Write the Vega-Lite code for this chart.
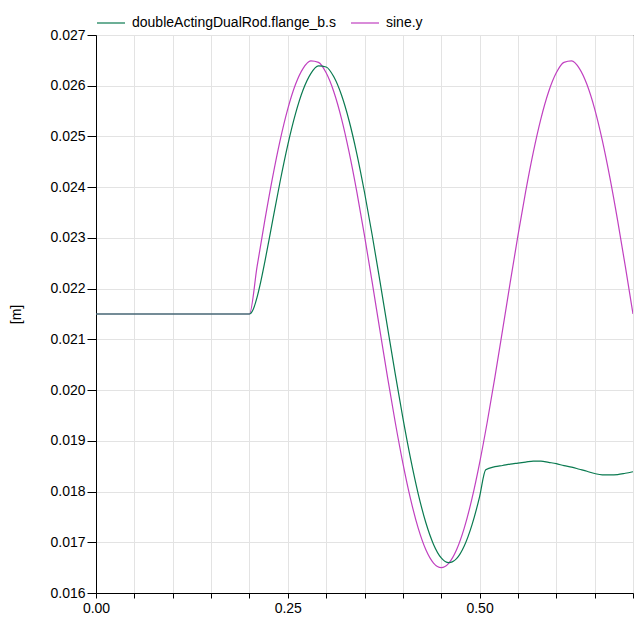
{
  "$schema": "https://vega.github.io/schema/vega-lite/v6.json",
  "width": 537,
  "height": 558,
  "autosize": {"type": "none"},
  "padding": {"left": 96, "top": 35, "right": 10, "bottom": 27},
  "background": "white",
  "config": {"font": "Liberation Sans", "view": {"stroke": "black", "strokeWidth": 1}},
  "data": {"values": [
    {"series": "sine.y", "t": 0, "v": 0.0215},
    {"series": "sine.y", "t": 0.2, "v": 0.0215},
    {"series": "sine.y", "t": 0.21, "v": 0.022437},
    {"series": "sine.y", "t": 0.22, "v": 0.023341},
    {"series": "sine.y", "t": 0.23, "v": 0.024179},
    {"series": "sine.y", "t": 0.24, "v": 0.024923},
    {"series": "sine.y", "t": 0.25, "v": 0.025545},
    {"series": "sine.y", "t": 0.26, "v": 0.026024},
    {"series": "sine.y", "t": 0.27, "v": 0.026343},
    {"series": "sine.y", "t": 0.28, "v": 0.02649},
    {"series": "sine.y", "t": 0.29, "v": 0.026461},
    {"series": "sine.y", "t": 0.3, "v": 0.026255},
    {"series": "sine.y", "t": 0.31, "v": 0.025882},
    {"series": "sine.y", "t": 0.32, "v": 0.025353},
    {"series": "sine.y", "t": 0.33, "v": 0.024687},
    {"series": "sine.y", "t": 0.34, "v": 0.023909},
    {"series": "sine.y", "t": 0.35, "v": 0.023045},
    {"series": "sine.y", "t": 0.36, "v": 0.022127},
    {"series": "sine.y", "t": 0.37, "v": 0.021186},
    {"series": "sine.y", "t": 0.38, "v": 0.020257},
    {"series": "sine.y", "t": 0.39, "v": 0.019371},
    {"series": "sine.y", "t": 0.4, "v": 0.018561},
    {"series": "sine.y", "t": 0.41, "v": 0.017855},
    {"series": "sine.y", "t": 0.42, "v": 0.017278},
    {"series": "sine.y", "t": 0.43, "v": 0.016851},
    {"series": "sine.y", "t": 0.44, "v": 0.016589},
    {"series": "sine.y", "t": 0.45, "v": 0.0165},
    {"series": "sine.y", "t": 0.46, "v": 0.016589},
    {"series": "sine.y", "t": 0.47, "v": 0.016851},
    {"series": "sine.y", "t": 0.48, "v": 0.017278},
    {"series": "sine.y", "t": 0.49, "v": 0.017855},
    {"series": "sine.y", "t": 0.5, "v": 0.018561},
    {"series": "sine.y", "t": 0.51, "v": 0.019371},
    {"series": "sine.y", "t": 0.52, "v": 0.020257},
    {"series": "sine.y", "t": 0.53, "v": 0.021186},
    {"series": "sine.y", "t": 0.54, "v": 0.022127},
    {"series": "sine.y", "t": 0.55, "v": 0.023045},
    {"series": "sine.y", "t": 0.56, "v": 0.023909},
    {"series": "sine.y", "t": 0.57, "v": 0.024687},
    {"series": "sine.y", "t": 0.58, "v": 0.025353},
    {"series": "sine.y", "t": 0.59, "v": 0.025882},
    {"series": "sine.y", "t": 0.6, "v": 0.026255},
    {"series": "sine.y", "t": 0.61, "v": 0.026461},
    {"series": "sine.y", "t": 0.62, "v": 0.02649},
    {"series": "sine.y", "t": 0.63, "v": 0.026343},
    {"series": "sine.y", "t": 0.64, "v": 0.026024},
    {"series": "sine.y", "t": 0.65, "v": 0.025545},
    {"series": "sine.y", "t": 0.66, "v": 0.024923},
    {"series": "sine.y", "t": 0.67, "v": 0.024179},
    {"series": "sine.y", "t": 0.68, "v": 0.023341},
    {"series": "sine.y", "t": 0.69, "v": 0.022437},
    {"series": "sine.y", "t": 0.7, "v": 0.0215},
    {"series": "doubleActingDualRod.flange_b.s", "t": 0, "v": 0.0215},
    {"series": "doubleActingDualRod.flange_b.s", "t": 0.2, "v": 0.0215},
    {"series": "doubleActingDualRod.flange_b.s", "t": 0.205, "v": 0.021595},
    {"series": "doubleActingDualRod.flange_b.s", "t": 0.21, "v": 0.021831},
    {"series": "doubleActingDualRod.flange_b.s", "t": 0.215, "v": 0.022152},
    {"series": "doubleActingDualRod.flange_b.s", "t": 0.22, "v": 0.022522},
    {"series": "doubleActingDualRod.flange_b.s", "t": 0.23, "v": 0.023321},
    {"series": "doubleActingDualRod.flange_b.s", "t": 0.24, "v": 0.024112},
    {"series": "doubleActingDualRod.flange_b.s", "t": 0.25, "v": 0.024833},
    {"series": "doubleActingDualRod.flange_b.s", "t": 0.26, "v": 0.025444},
    {"series": "doubleActingDualRod.flange_b.s", "t": 0.27, "v": 0.025919},
    {"series": "doubleActingDualRod.flange_b.s", "t": 0.28, "v": 0.026238},
    {"series": "doubleActingDualRod.flange_b.s", "t": 0.29, "v": 0.02639},
    {"series": "doubleActingDualRod.flange_b.s", "t": 0.3, "v": 0.02637},
    {"series": "doubleActingDualRod.flange_b.s", "t": 0.31, "v": 0.026176},
    {"series": "doubleActingDualRod.flange_b.s", "t": 0.32, "v": 0.025817},
    {"series": "doubleActingDualRod.flange_b.s", "t": 0.33, "v": 0.025305},
    {"series": "doubleActingDualRod.flange_b.s", "t": 0.34, "v": 0.024659},
    {"series": "doubleActingDualRod.flange_b.s", "t": 0.35, "v": 0.0239},
    {"series": "doubleActingDualRod.flange_b.s", "t": 0.36, "v": 0.023057},
    {"series": "doubleActingDualRod.flange_b.s", "t": 0.37, "v": 0.022158},
    {"series": "doubleActingDualRod.flange_b.s", "t": 0.38, "v": 0.021236},
    {"series": "doubleActingDualRod.flange_b.s", "t": 0.39, "v": 0.020323},
    {"series": "doubleActingDualRod.flange_b.s", "t": 0.4, "v": 0.019452},
    {"series": "doubleActingDualRod.flange_b.s", "t": 0.41, "v": 0.018654},
    {"series": "doubleActingDualRod.flange_b.s", "t": 0.42, "v": 0.017956},
    {"series": "doubleActingDualRod.flange_b.s", "t": 0.43, "v": 0.017384},
    {"series": "doubleActingDualRod.flange_b.s", "t": 0.44, "v": 0.016958},
    {"series": "doubleActingDualRod.flange_b.s", "t": 0.45, "v": 0.016692},
    {"series": "doubleActingDualRod.flange_b.s", "t": 0.46, "v": 0.016597},
    {"series": "doubleActingDualRod.flange_b.s", "t": 0.47, "v": 0.016676},
    {"series": "doubleActingDualRod.flange_b.s", "t": 0.48, "v": 0.016925},
    {"series": "doubleActingDualRod.flange_b.s", "t": 0.49, "v": 0.017337},
    {"series": "doubleActingDualRod.flange_b.s", "t": 0.5, "v": 0.017896},
    {"series": "doubleActingDualRod.flange_b.s", "t": 0.508, "v": 0.01843},
    {"series": "doubleActingDualRod.flange_b.s", "t": 0.52, "v": 0.01849},
    {"series": "doubleActingDualRod.flange_b.s", "t": 0.53, "v": 0.018514},
    {"series": "doubleActingDualRod.flange_b.s", "t": 0.54, "v": 0.01854},
    {"series": "doubleActingDualRod.flange_b.s", "t": 0.55, "v": 0.01856},
    {"series": "doubleActingDualRod.flange_b.s", "t": 0.56, "v": 0.01858},
    {"series": "doubleActingDualRod.flange_b.s", "t": 0.57, "v": 0.0186},
    {"series": "doubleActingDualRod.flange_b.s", "t": 0.58, "v": 0.0186},
    {"series": "doubleActingDualRod.flange_b.s", "t": 0.59, "v": 0.018575},
    {"series": "doubleActingDualRod.flange_b.s", "t": 0.6, "v": 0.01855},
    {"series": "doubleActingDualRod.flange_b.s", "t": 0.61, "v": 0.01851},
    {"series": "doubleActingDualRod.flange_b.s", "t": 0.62, "v": 0.01848},
    {"series": "doubleActingDualRod.flange_b.s", "t": 0.63, "v": 0.01844},
    {"series": "doubleActingDualRod.flange_b.s", "t": 0.64, "v": 0.0184},
    {"series": "doubleActingDualRod.flange_b.s", "t": 0.65, "v": 0.018355},
    {"series": "doubleActingDualRod.flange_b.s", "t": 0.66, "v": 0.01833},
    {"series": "doubleActingDualRod.flange_b.s", "t": 0.67, "v": 0.01833},
    {"series": "doubleActingDualRod.flange_b.s", "t": 0.68, "v": 0.018335},
    {"series": "doubleActingDualRod.flange_b.s", "t": 0.69, "v": 0.01836},
    {"series": "doubleActingDualRod.flange_b.s", "t": 0.7, "v": 0.01839}
  ]},
  "mark": {"type": "line", "strokeWidth": 1.2, "clip": true, "interpolate": "monotone"},
  "encoding": {
    "x": {
      "field": "t", "type": "quantitative",
      "scale": {"domain": [0, 0.7], "nice": false, "zero": false},
      "axis": {
        "title": null,
        "values": [0, 0.05, 0.1, 0.15, 0.2, 0.25, 0.3, 0.35, 0.4, 0.45, 0.5, 0.55, 0.6, 0.65, 0.7],
        "labelExpr": "datum.value == 0 || datum.value == 0.25 || datum.value == 0.5 ? format(datum.value, '.2f') : ''",
        "labelOverlap": false,
        "labelFlush": false,
        "labelFontSize": 14,
        "labelColor": "black",
        "labelPadding": 3,
        "tickSize": 5,
        "tickColor": "black",
        "domainColor": "black",
        "grid": true,
        "gridColor": "#e3e3e3",
        "gridWidth": 1
      }
    },
    "y": {
      "field": "v", "type": "quantitative",
      "scale": {"domain": [0.016, 0.027], "nice": false, "zero": false},
      "axis": {
        "title": "[m]",
        "titleFontSize": 14,
        "titleFontWeight": "normal",
        "titleColor": "black",
        "titlePadding": 26,
        "values": [0.016, 0.017, 0.018, 0.019, 0.02, 0.021, 0.022, 0.023, 0.024, 0.025, 0.026, 0.027],
        "format": ".3f",
        "labelOverlap": false,
        "labelFlush": false,
        "labelFontSize": 14,
        "labelColor": "black",
        "labelPadding": 2,
        "tickSize": 9,
        "tickColor": "black",
        "domainColor": "black",
        "grid": true,
        "gridColor": "#e3e3e3",
        "gridWidth": 1
      }
    },
    "color": {
      "field": "series", "type": "nominal",
      "scale": {"domain": ["doubleActingDualRod.flange_b.s", "sine.y"], "range": ["#0a7a50", "#c040c0"]},
      "legend": {
        "title": null,
        "orient": "none",
        "direction": "horizontal",
        "legendX": 0,
        "legendY": -27,
        "symbolType": "stroke",
        "symbolSize": 784,
        "symbolStrokeWidth": 1.2,
        "labelFontSize": 14,
        "labelColor": "black",
        "labelLimit": 400,
        "columnPadding": 12,
        "labelOffset": 6
      }
    }
  }
}
